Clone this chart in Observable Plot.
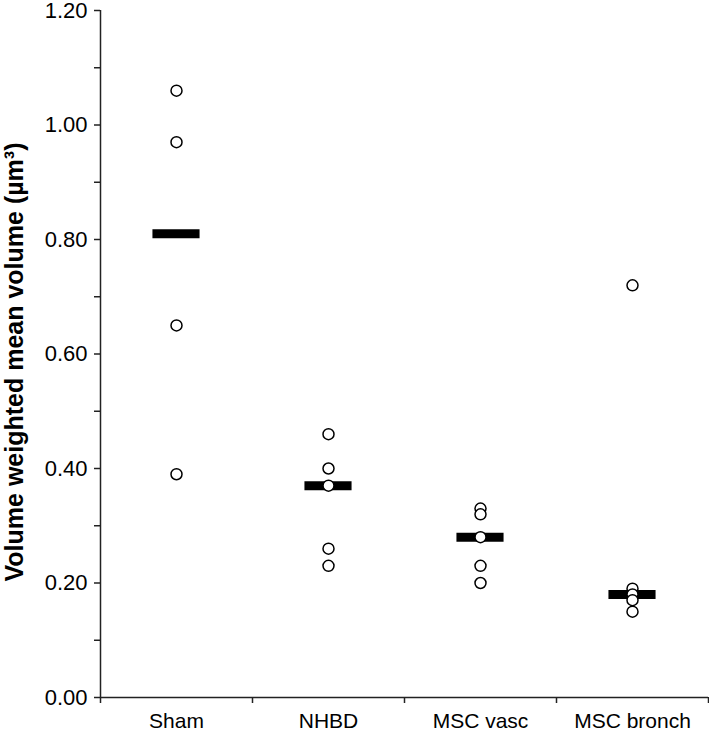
<!DOCTYPE html>
<html>
<head>
<meta charset="utf-8">
<script src="https://cdn.jsdelivr.net/npm/d3@7"></script>
<script src="https://cdn.jsdelivr.net/npm/@observablehq/plot@0.6"></script>
<style>
  html, body { margin: 0; padding: 0; background: #fff; }
  #chart svg { display: block; }
</style>
</head>
<body>
<div id="chart"></div>
<script>
// ---- data ----
const groups = ["Sham", "NHBD", "MSC vasc", "MSC bronch"];
const sham = [1.06, 0.97, 0.65, 0.39];
const nhbd = [0.46, 0.40, 0.37, 0.26, 0.23];
const mscVasc = [0.33, 0.32, 0.28, 0.23, 0.20];
const mscBronch = [0.72, 0.19, 0.18, 0.17, 0.15];
const medians = [0.81, 0.37, 0.28, 0.18];
const yTicks = [0, 0.2, 0.4, 0.6, 0.8, 1.0, 1.2];
const yMinorTicks = [0.1, 0.3, 0.5, 0.7, 0.9, 1.1];
const yLabel = "Volume weighted mean volume (µm³)";

// ---- build tables ----
const series = [sham, nhbd, mscVasc, mscBronch];
const points = series.flatMap((vals, i) => vals.map(v => ({group: groups[i], gi: i, value: v})));
const meds = medians.map((m, i) => ({group: groups[i], gi: i, value: m}));
const halfBar = 0.155;

const font = "'Liberation Sans', Arial, Helvetica, sans-serif";
const noLabel = () => "";

const chart = Plot.plot({
  width: 709,
  height: 732,
  marginLeft: 100,
  marginRight: 1,
  marginTop: 10,
  marginBottom: 35,
  style: {fontFamily: font, background: "#fff", color: "#000", overflow: "visible"},
  x: {type: "linear", domain: [0, groups.length]},
  y: {domain: [0, 1.2]},
  marks: [
    // y axis: major ticks with labels
    Plot.axisY({ticks: yTicks, tickFormat: d3.format(".2f"), tickSize: 6, tickPadding: 7,
      fontSize: 22, label: null, stroke: "#222", strokeWidth: 1.5, strokeOpacity: 1, style: {letterSpacing: "0.8px"}}),
    // y axis: minor ticks
    Plot.axisY({ticks: yMinorTicks, tickFormat: noLabel, tickSize: 6, label: null,
      stroke: "#222", strokeWidth: 1.5, strokeOpacity: 1}),
    // x axis: boundary ticks
    Plot.axisX({ticks: d3.range(groups.length + 1), tickFormat: noLabel, tickSize: 6, label: null,
      stroke: "#222", strokeWidth: 1.5, strokeOpacity: 1}),
    // x axis: category labels
    Plot.axisX({ticks: groups.map((g, i) => i + 0.5), tickFormat: d => groups[Math.floor(d)],
      tickSize: 0, tickPadding: 16, fontSize: 21, label: null, style: {letterSpacing: "0.3px"}}),
    // axis lines
    Plot.ruleX([0], {stroke: "#222", strokeWidth: 1.5}),
    Plot.ruleY([0], {stroke: "#222", strokeWidth: 1.5}),
    // median bars
    Plot.ruleY(meds, {y: "value", x1: d => d.gi + 0.5 - halfBar, x2: d => d.gi + 0.5 + halfBar,
      stroke: "#000", strokeWidth: 9}),
    // individual points
    Plot.dot(points, {x: d => d.gi + 0.5, y: "value", r: 5.5, fill: "#fff", stroke: "#000", strokeWidth: 1.5}),
    // y-axis title
    Plot.text([yLabel], {frameAnchor: "left", text: d => d, rotate: -90, dx: -86, dy: 8,
      fontSize: 25, fontWeight: "bold", fill: "#000", textAnchor: "middle", lineAnchor: "middle",
      style: {letterSpacing: "2px"}})
  ]
});
document.getElementById("chart").appendChild(chart);
</script>
</body>
</html>
